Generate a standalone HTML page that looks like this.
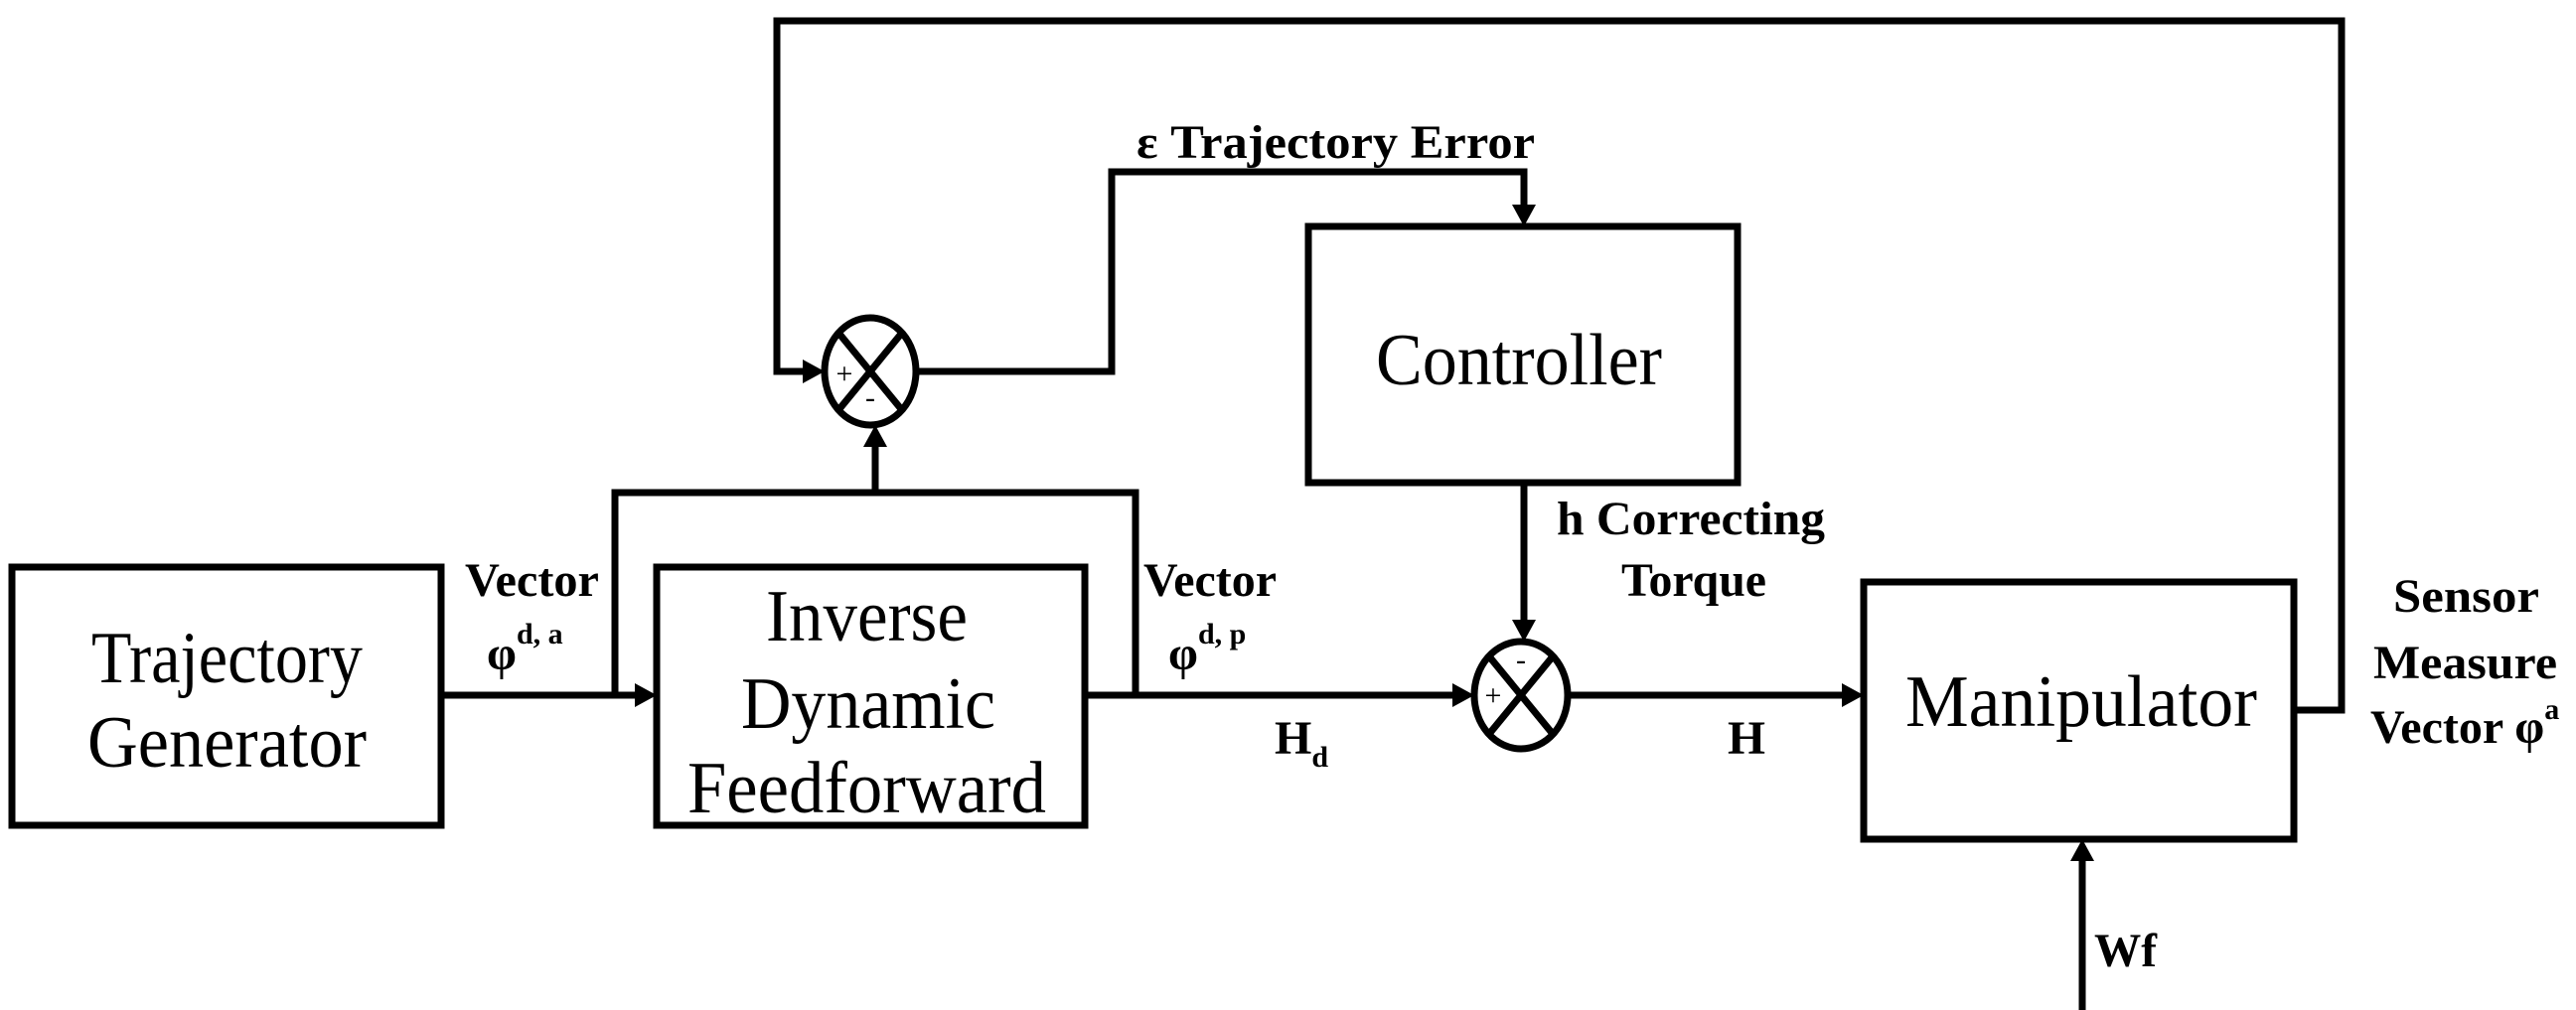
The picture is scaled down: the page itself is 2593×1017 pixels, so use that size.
<!DOCTYPE html>
<html><head><style>html,body{margin:0;padding:0;background:#fff}svg{display:block}</style></head>
<body>
<svg width="2593" height="1017" viewBox="0 0 2593 1017" xmlns="http://www.w3.org/2000/svg">
<g fill="none" stroke="#000" stroke-width="7">
<rect x="12" y="571" width="432" height="260"/>
<rect x="661" y="571" width="431" height="260"/>
<rect x="1317" y="228" width="432" height="258"/>
<rect x="1876" y="586" width="433" height="259"/>
<ellipse cx="876" cy="374" rx="46" ry="54"/>
<ellipse cx="1531" cy="700" rx="47" ry="54"/>
<line x1="844" y1="335" x2="908" y2="413"/><line x1="908" y1="335" x2="844" y2="413"/>
<line x1="1499" y1="661" x2="1563" y2="739"/><line x1="1563" y1="661" x2="1499" y2="739"/>
<polyline points="444,700 645,700"/>
<polyline points="619,700 619,496 1143,496 1143,700"/>
<polyline points="881,496 881,445"/>
<polyline points="1092,700 1468,700"/>
<polyline points="1578,700 1860,700"/>
<polyline points="2309,715 2357,715 2357,21 782,21 782,374 814,374"/>
<polyline points="922,374 1119,374 1119,173 1534,173 1534,212"/>
<polyline points="1534,486 1534,630"/>
<polyline points="2096,1017 2096,862"/>
</g>
<g fill="#000">
<polygon points="661,700 639,688 639,712"/>
<polygon points="830,374 808,362 808,386"/>
<polygon points="881,428 869,450 893,450"/>
<polygon points="1484,700 1462,688 1462,712"/>
<polygon points="1876,700 1854,688 1854,712"/>
<polygon points="1534,228 1522,206 1546,206"/>
<polygon points="1534,646 1522,624 1546,624"/>
<polygon points="2096,845 2084,867 2108,867"/>
</g>
<g font-family="Liberation Serif, serif" font-size="74">
<text x="92" y="687" textLength="273" lengthAdjust="spacingAndGlyphs">Trajectory</text>
<text x="88" y="772" textLength="281" lengthAdjust="spacingAndGlyphs">Generator</text>
<text x="771" y="645" textLength="203" lengthAdjust="spacingAndGlyphs">Inverse</text>
<text x="746" y="733" textLength="256" lengthAdjust="spacingAndGlyphs">Dynamic</text>
<text x="692" y="818" textLength="361" lengthAdjust="spacingAndGlyphs">Feedforward</text>
<text x="1385" y="387" textLength="288" lengthAdjust="spacingAndGlyphs">Controller</text>
<text x="1918" y="731" textLength="354" lengthAdjust="spacingAndGlyphs">Manipulator</text>
</g>
<g font-family="Liberation Serif, serif" font-size="48" font-weight="bold">
<text x="468" y="600" textLength="135" lengthAdjust="spacingAndGlyphs">Vector</text>
<text x="490" y="674">φ<tspan font-size="30" dy="-26">d, a</tspan></text>
<text x="1151" y="600" textLength="134" lengthAdjust="spacingAndGlyphs">Vector</text>
<text x="1176" y="674">φ<tspan font-size="30" dy="-26">d, p</tspan></text>
<text x="1144" y="159" textLength="401" lengthAdjust="spacingAndGlyphs">ε Trajectory  Error</text>
<text x="1567" y="538" textLength="270" lengthAdjust="spacingAndGlyphs">h Correcting</text>
<text x="1632" y="600" textLength="146" lengthAdjust="spacingAndGlyphs">Torque</text>
<text x="1283" y="759">H<tspan font-size="30" dy="13">d</tspan></text>
<text x="1739" y="759" textLength="38" lengthAdjust="spacingAndGlyphs">H</text>
<text x="2409" y="616" textLength="147" lengthAdjust="spacingAndGlyphs">Sensor</text>
<text x="2389" y="683" textLength="185" lengthAdjust="spacingAndGlyphs">Measure</text>
<text x="2386" y="748">Vector φ<tspan font-size="30" dy="-24">a</tspan></text>
<text x="2108" y="973" textLength="63" lengthAdjust="spacingAndGlyphs">Wf</text>
</g>
<g font-family="Liberation Serif, serif" font-size="30" text-anchor="middle">
<text x="850" y="386">+</text>
<text x="876" y="410">-</text>
<text x="1531" y="674">-</text>
<text x="1503" y="710">+</text>
</g>
</svg>
</body></html>
